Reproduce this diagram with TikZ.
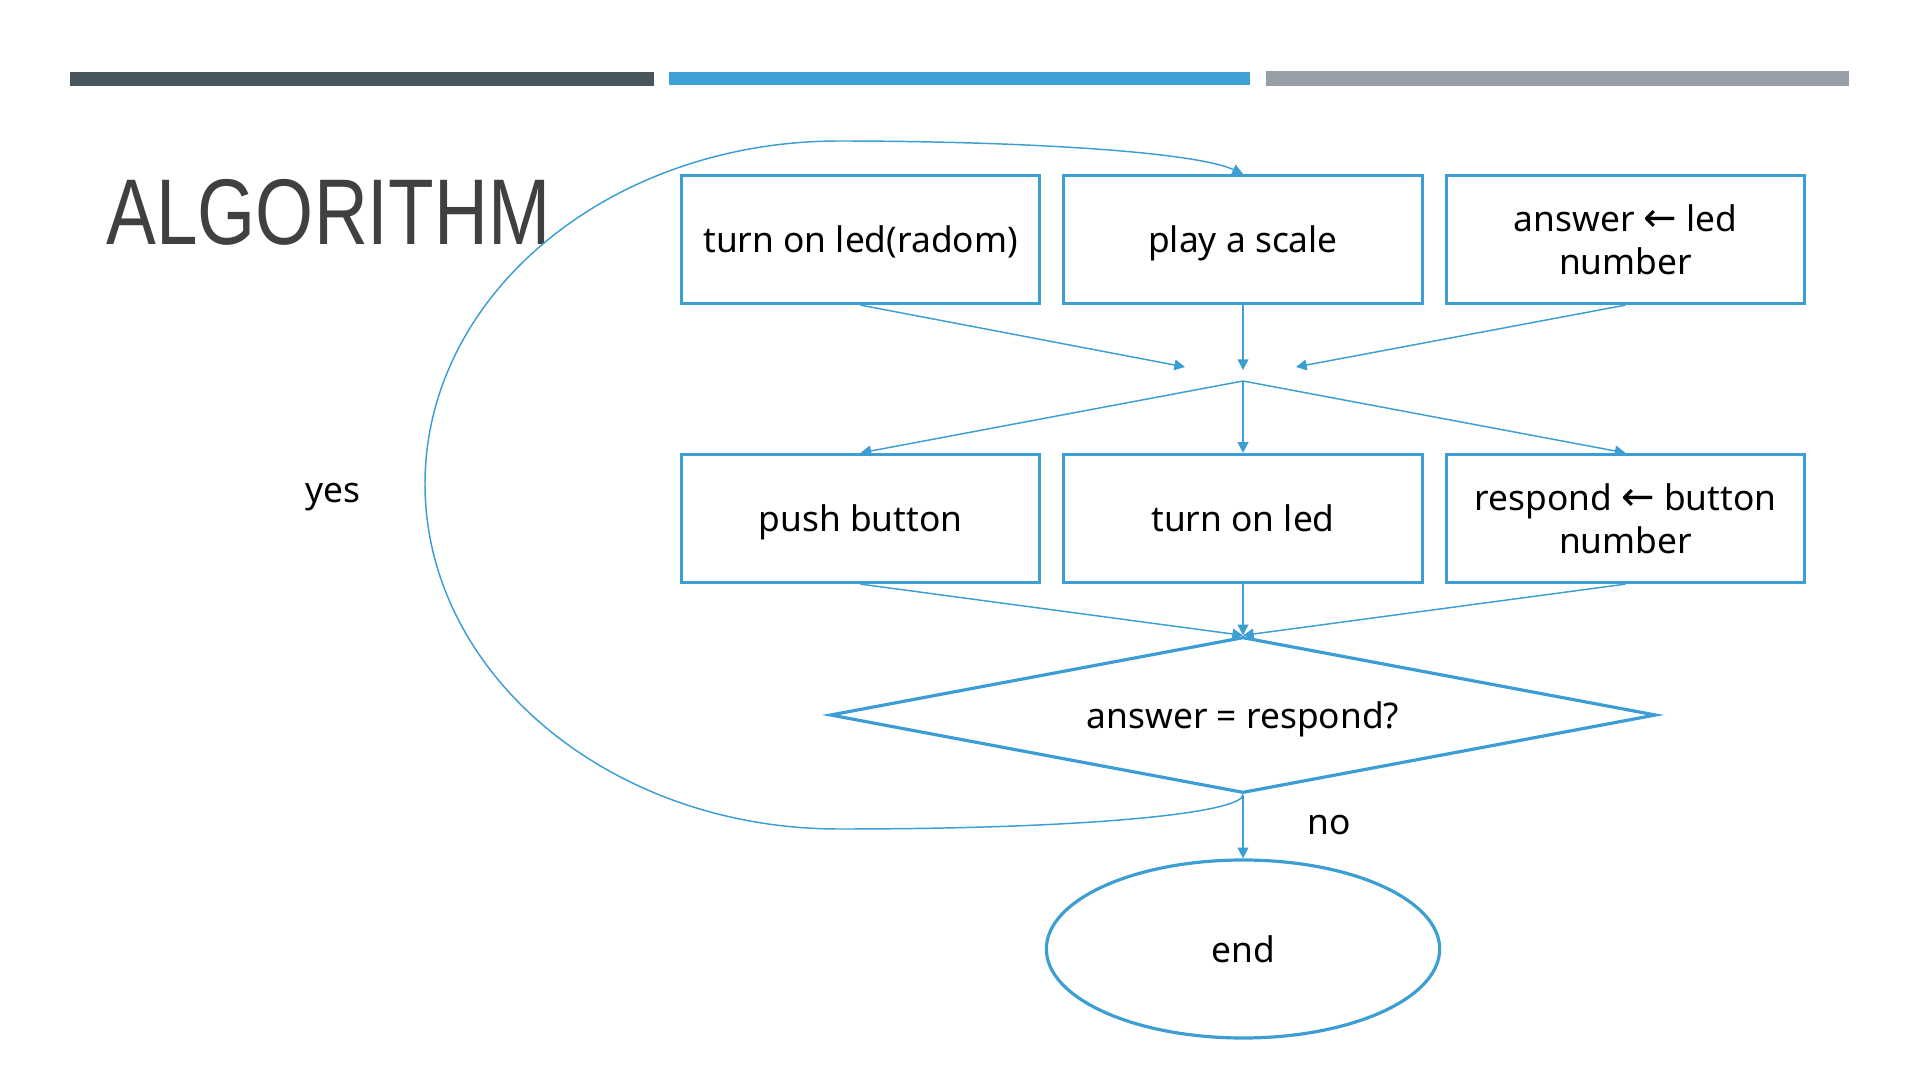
\documentclass[tikz,border=0pt]{standalone}
\usepackage{fontspec}
\setmainfont{Noto Sans}
\newfontfamily\titlefont{Liberation Sans}
\newfontfamily\arrowfont{DejaVu Sans}
\usetikzlibrary{shapes.geometric,arrows.meta}

\definecolor{slideblue}{RGB}{61,158,212}
\definecolor{bardark}{RGB}{71,85,92}
\definecolor{barblue}{RGB}{62,160,213}
\definecolor{bargray}{RGB}{151,158,168}
\definecolor{titlegray}{RGB}{64,64,64}

\tikzset{every picture/.style={line width=0.75pt}}

\begin{document}
\begin{tikzpicture}[x=0.75pt,y=0.75pt,yscale=-1,xscale=1,
	box/.style={draw=slideblue, line width=2.4pt, minimum width=269pt, minimum height=96pt, align=center, text depth=0pt},
	link/.style={draw=slideblue, line width=1.1pt, -{Triangle[length=8pt,width=8pt]}},
	every node/.append style={font=\fontsize{26.5}{32.5}\selectfont}]
	\path[use as bounding box] (0,0) rectangle (1920,1080);

	%Top bars
	\fill [bardark] (70,72) rectangle (654,86) ;
	\fill [barblue] (669,72) rectangle (1250,85) ;
	\fill [bargray] (1266,71) rectangle (1849,86) ;

	% Title
	\node [anchor=base west, inner sep=0, text=titlegray] (title) at (106,245) {\scalebox{0.8}[1]{\titlefont\fontsize{70}{70}\selectfont ALGORITHM}};

	%Boxes, first row
	\node [box] (b1) at (860.5,239.5) {turn on led(radom)};
	\node [box] (b2) at (1243,239.5) {play a scale};
	\node [box] (b3) at (1625.5,239.5) {answer {\arrowfont\fontsize{30}{32.5}\selectfont ←} led\\number};
	%Boxes, second row
	\node [box] (b4) at (860.5,518.5) {push button};
	\node [box] (b5) at (1243,518.5) {turn on led};
	\node [box] (b6) at (1625.5,518.5) {respond {\arrowfont\fontsize{30}{32.5}\selectfont ←} button\\number};

	%Decision and end
	\node [diamond, aspect=5.3, draw=slideblue, line width=2.4pt, minimum width=619.5pt, minimum height=117pt, inner sep=0, text depth=0pt] (check) at (1243,715) {answer = respond?};
	\node [ellipse, draw=slideblue, line width=2.4pt, minimum width=295pt, minimum height=133.5pt] (stop) at (1243,949) {end};

	%Merge points
	\coordinate (jl) at (1185,367);
	\coordinate (jt) at (1243,370);
	\coordinate (jr) at (1296,367);
	\coordinate (jo) at (1243,381);

	%Connectors
	\draw [link] (b1.south) -- (jl) ;
	\draw [link] (b2.south) -- (jt) ;
	\draw [link] (b3.south) -- (jr) ;
	\draw [link] (jo) -- (b4.north) ;
	\draw [link] (jo) -- (b5.north) ;
	\draw [link] (jo) -- (b6.north) ;
	\draw [link] (b4.south) -- (check.north) ;
	\draw [link] (b5.south) -- (check.north) ;
	\draw [link] (b6.south) -- (check.north) ;
	\draw [link] (check.south) -- (stop.north) ;
	%Loop back
	\draw [link] (check.south) .. controls (1243,812) and (1100,829) .. (839,829) .. controls (610,829) and (425,674) .. (425,484) .. controls (425,294) and (610,141) .. (839,141) .. controls (1000,141) and (1190,150) .. (b2.north) ;

	% Text Node
	\node (yes) at (333,497) {yes};
	% Text Node
	\node (no) at (1329,825) {no};
\end{tikzpicture}
\end{document}
